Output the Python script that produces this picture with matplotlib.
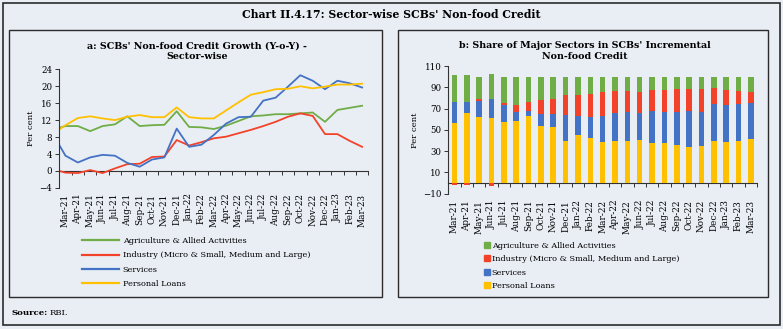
import numpy as np
from matplotlib import pyplot as plt
from matplotlib.patches import Rectangle, Patch
from matplotlib.lines import Line2D

months = ["Mar-21", "Apr-21", "May-21", "Jun-21", "Jul-21", "Aug-21", "Sep-21",
          "Oct-21", "Nov-21", "Dec-21", "Jan-22", "Feb-22", "Mar-22", "Apr-22",
          "May-22", "Jun-22", "Jul-22", "Aug-22", "Sep-22", "Oct-22", "Nov-22",
          "Dec-22", "Jan-23", "Feb-23", "Mar-23"]

# panel a: y-o-y growth (per cent); first value is where each line meets the y-axis
agri_growth = [10.2, 10.6, 10.6, 9.4, 10.6, 11.0, 12.9, 10.6, 10.8, 10.9, 14.1, 10.4, 10.3,
               9.9, 10.7, 11.8, 12.9, 13.1, 13.4, 13.4, 13.6, 13.8, 11.6, 14.4, 14.9, 15.4]
industry_growth = [0.0, -0.4, -0.5, 0.2, -0.5, 0.6, 1.6, 1.7, 3.3, 3.4, 7.3, 6.0, 6.8,
                   7.7, 8.1, 8.9, 9.7, 10.6, 11.6, 12.8, 13.6, 13.0, 8.7, 8.7, 7.1, 5.7]
services_growth = [6.1, 3.6, 2.0, 3.2, 3.8, 3.6, 1.9, 1.0, 2.7, 3.2, 10.0, 5.7, 6.2,
                   8.5, 11.2, 12.7, 12.8, 16.6, 17.3, 19.9, 22.6, 21.3, 19.3, 21.3, 20.7, 19.7]
personal_growth = [9.8, 10.8, 12.5, 12.9, 12.4, 12.0, 12.8, 13.2, 12.7, 12.7, 15.0, 12.7, 12.4,
                   12.4, 14.3, 16.2, 18.0, 18.6, 19.3, 19.4, 20.0, 19.5, 19.9, 20.4, 20.4, 20.6]

# panel b: share in incremental non-food credit (per cent)
personal_share = [56.7, 66.1, 62.3, 60.7, 57.3, 57.9, 63.3, 53.9, 52.9, 39.4, 44.7, 42.2, 38.8,
                  39.1, 39.4, 40.4, 37.6, 37.6, 35.7, 34.1, 34.7, 39.4, 38.5, 39.4, 41.0]
services_share = [19.4, 10.0, 15.1, 18.3, 16.3, 8.5, 4.7, 10.6, 12.3, 24.5, 18.3, 19.5, 24.5,
                  26.4, 27.3, 25.7, 29.7, 29.4, 31.3, 33.2, 32.3, 34.5, 34.5, 35.1, 34.5]
industry_share = [-1.9, -1.9, 1.6, -2.5, 1.9, 6.9, 8.4, 13.8, 13.8, 18.8, 20.0, 22.3, 22.6,
                  21.0, 19.8, 19.8, 20.4, 20.7, 21.7, 21.4, 21.7, 15.4, 14.4, 12.0, 10.0]
agri_share = [25.8, 25.8, 21.0, 23.5, 24.5, 26.7, 23.6, 21.7, 21.0, 17.3, 17.0, 16.0, 14.1,
              13.5, 13.5, 14.1, 12.3, 12.3, 11.3, 11.3, 11.3, 10.7, 12.6, 13.5, 14.5]

labels = ["Agriculture & Allied Activities",
          "Industry (Micro & Small, Medium and Large)",
          "Services",
          "Personal Loans"]
colors = ["#70AD47", "#F2432A", "#4472C4", "#FFC000"]

W, H = 783, 329
BG = "#E9EEF5"
FS = 5.6
plt.rcParams["font.family"] = ["DejaVu Serif"]
plt.rcParams["font.size"] = FS


def fx(px):
    return px / W


def fy(py):
    return 1 - py / H


def box(fig, x0, y0, x1, y1, lw=1.0):
    fig.add_artist(Rectangle((fx(x0), fy(y1)), (x1 - x0) / W, (y1 - y0) / H,
                             transform=fig.transFigure, fill=False, ec="#2b2b2b", lw=lw))


def add_axes(fig, x0, y0, x1, y1):
    return fig.add_axes([fx(x0), fy(y1), (x1 - x0) / W, (y1 - y0) / H])


def style_axes(ax, ymin, ymax, yticks, pad):
    ax.set_facecolor("none")
    ax.set_xlim(-0.5, len(months) - 0.5)
    ax.set_ylim(ymin, ymax)
    for s in ["top", "right", "bottom"]:
        ax.spines[s].set_visible(False)
    ax.spines["left"].set_color("#333333")
    ax.spines["left"].set_linewidth(0.8)
    ax.set_yticks(yticks)
    ax.tick_params(axis="y", length=3, width=0.7, color="#333333", pad=2, labelsize=FS + 0.6)
    ax.set_xticks(range(len(months)), months, rotation=90)
    ax.tick_params(axis="x", length=0, pad=pad, labelsize=FS + 0.8)
    # zero line with tick marks between categories
    zero = ax.secondary_xaxis((0 - ymin) / (ymax - ymin))
    zero.set_xticks(np.arange(-0.5, len(months), 1))
    zero.tick_params(axis="x", length=3, width=0.7, color="#333333", labelbottom=False)
    zero.spines["bottom"].set_color("#333333")
    zero.spines["bottom"].set_linewidth(0.8)
    ax.set_ylabel("Per cent", fontsize=FS + 0.5, labelpad=3)


def main():
    fig = plt.figure(figsize=(W / 100, H / 100), dpi=100)
    fig.patch.set_facecolor(BG)

    box(fig, 3, 3, 780, 325, lw=1.2)
    box(fig, 9, 30, 382, 297)
    box(fig, 398, 30, 768, 297)

    fig.text(fx(391), fy(15), "Chart II.4.17: Sector-wise SCBs' Non-food Credit",
             ha="center", va="center", fontsize=7.8, fontweight="bold")
    fig.text(fx(197), fy(51), "a: SCBs' Non-food Credit Growth (Y-o-Y) -\nSector-wise",
             ha="center", va="center", fontsize=6.8, fontweight="bold", linespacing=1.2)
    fig.text(fx(585), fy(51), "b: Share of Major Sectors in SCBs' Incremental\nNon-food Credit",
             ha="center", va="center", fontsize=6.8, fontweight="bold", linespacing=1.2)
    fig.text(fx(11), fy(313), "Source:", ha="left", va="center", fontsize=FS + 0.5,
             fontweight="bold")
    fig.text(fx(50), fy(313), "RBI.", ha="left", va="center", fontsize=FS + 0.5)

    # panel a: lines
    ax1 = add_axes(fig, 59.3, 69.3, 368.3, 187.9)
    style_axes(ax1, -4, 24, np.arange(-4, 25, 4), pad=4)
    x_line = np.r_[-0.5, np.arange(len(months))]
    series = [agri_growth, industry_growth, services_growth, personal_growth]
    for vals, c in zip(series, colors):
        ax1.plot(x_line, vals, color=c, lw=1.3, solid_joinstyle="round")
    handles = [Line2D([], [], color=c, lw=1.6) for c in colors]
    fig.legend(handles, labels, loc="upper left", bbox_to_anchor=(fx(82), fy(237)),
               frameon=False, fontsize=5.9, handlelength=4.5, handletextpad=0.45,
               labelspacing=0.78, borderpad=0, borderaxespad=0)

    # panel b: stacked bars (negative industry share drawn below zero)
    ax2 = add_axes(fig, 448.3, 66, 757, 193.6)
    style_axes(ax2, -10, 110, np.arange(-10, 111, 20), pad=4.5)
    x = np.arange(len(months))
    pl = np.array(personal_share)
    sv = np.array(services_share)
    ind = np.array(industry_share)
    ag = np.array(agri_share)
    bw = 0.45
    ax2.bar(x, pl, bw, color=colors[3])
    ax2.bar(x, sv, bw, bottom=pl, color=colors[2])
    ax2.bar(x, ind, bw, bottom=np.where(ind > 0, pl + sv, 0), color=colors[1])
    ax2.bar(x, ag, bw, bottom=pl + sv + np.clip(ind, 0, None), color=colors[0])
    handles = [Patch(color=c) for c in colors]
    fig.legend(handles, labels, loc="upper left", bbox_to_anchor=(fx(484), fy(241.5)),
               frameon=False, fontsize=5.9, handlelength=0.7, handleheight=0.7,
               handletextpad=0.25, labelspacing=0.68, borderpad=0, borderaxespad=0)

    fig.savefig("out.png", dpi=100, facecolor=fig.get_facecolor())


if __name__ == "__main__":
    main()
